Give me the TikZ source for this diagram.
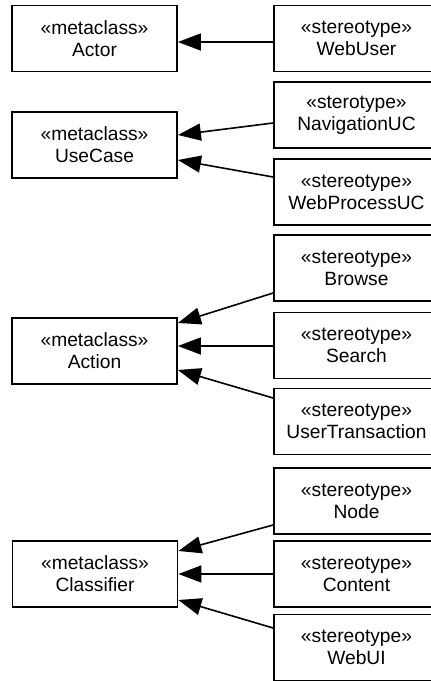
\documentclass[tikz,border=0pt]{standalone}
\usepackage{fontspec}
\setmainfont{Liberation Sans}
\usetikzlibrary{arrows.meta, positioning, calc}

\begin{document}
\begin{tikzpicture}[
    x=0.5pt, y=-0.5pt,
    metaclass/.style={rectangle, draw=black, line width=0.9pt, minimum width=82.5pt, minimum height=33pt, inner sep=0pt, align=center, font=\fontsize{9.6}{11}\selectfont},
    stereo/.style={metaclass},
    arrow/.style={line width=0.8pt, -{Triangle[length=11.5pt, width=8.5pt]}, draw=black}
]
\useasboundingbox (0,0) rectangle (431,681);

% Metaclasses
\node (actor) [metaclass] at (94.5,38.5) {«metaclass»\\Actor};
\node (usecase) [metaclass] at (94.5,145) {«metaclass»\\UseCase};
\node (action) [metaclass] at (94.5,351) {«metaclass»\\Action};
\node (classifier) [metaclass] at (95,574) {«metaclass»\\Classifier};

% Stereotypes
\node (webuser) [stereo] at (356.5,38.5) {«stereotype»\\WebUser};
\node (navigation) [stereo] at (356.5,115) {«sterotype»\\NavigationUC};
\node (webprocess) [stereo] at (356.5,192) {«stereotype»\\WebProcessUC};
\node (browse) [stereo] at (356.5,268) {«stereotype»\\Browse};
\node (search) [stereo] at (356.5,345.5) {«stereotype»\\Search};
\node (usertransaction) [stereo] at (356.5,421.5) {«stereotype»\\UserTransaction};
\node (nodebox) [stereo] at (356.5,501) {«stereotype»\\Node};
\node (content) [stereo] at (356.5,574) {«stereotype»\\Content};
\node (webui) [stereo] at (356.5,647.5) {«stereotype»\\WebUI};

% Generalizations
\foreach \src/\dst/\a/\b in {webuser/actor/3.5/3.5, navigation/usecase/8/-10, webprocess/usecase/-15/15,
    browse/action/25/-28, search/action/0.5/-5, usertransaction/action/-23.5/19,
    nodebox/classifier/24/-23, content/classifier/0/0, webui/classifier/-19.5/26} {
    \draw [arrow] ($(\src.west)+(0,\a)$) -- ($(\dst.east)+(0,\b)$);
}

\end{tikzpicture}
\end{document}
